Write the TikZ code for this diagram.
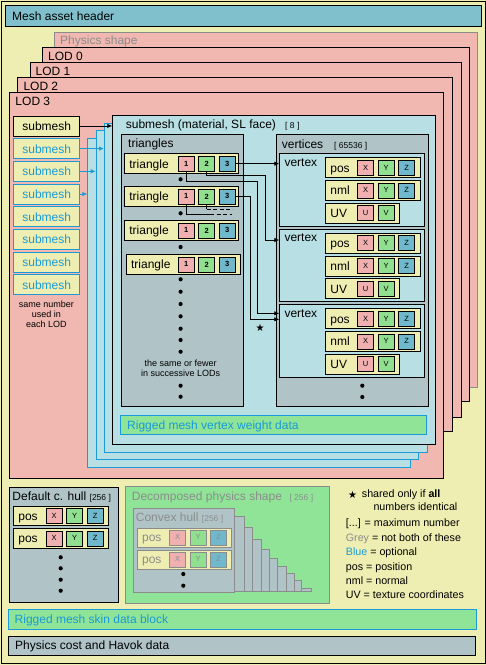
\documentclass[tikz,border=0pt]{standalone}
\usepackage{fontspec}
\setmainfont{Liberation Sans}
\newfontfamily\symbolfont{DejaVu Sans}
\usepackage{xcolor}
\usepackage{tikz}
\usetikzlibrary{arrows.meta}
\usetikzlibrary{calc}
\usetikzlibrary{positioning}
\tikzset{>=latex}

\definecolor{bgyellow}{HTML}{EEEEB2}
\definecolor{headteal}{HTML}{80C0CC}
\definecolor{lodpink}{HTML}{F0B8B0}
\definecolor{subblue}{HTML}{B8E0E4}
\definecolor{greyblue}{HTML}{B0C4C8}
\definecolor{datagreen}{HTML}{90E498}
\definecolor{cellpink}{HTML}{F0B0B0}
\definecolor{cellgreen}{HTML}{90E090}
\definecolor{cellblue}{HTML}{70B8CC}
\definecolor{optblue}{HTML}{1A9AD6}
\definecolor{greytext}{HTML}{8C8C8C}

\newcommand{\labelsize}{\fontsize{12}{14}\selectfont}
\newcommand{\smallsize}{\fontsize{8.5}{9}\selectfont}
\newcommand{\cellsize}{\fontsize{7.5}{8}\selectfont}
\newcommand{\notesize}{\fontsize{9}{10}\selectfont}
\newcommand{\legendsize}{\fontsize{10.7}{12}\selectfont}

\begin{document}
\begin{tikzpicture}[
        x=1pt, y=-1pt,
        blk/.style={draw, line width=0.8pt, anchor=north west, inner sep=0pt},
        sheet/.style={blk, fill=lodpink},
        boxtitle/.style={anchor=base west, inner sep=0pt, font=\labelsize},
        maxnum/.style={anchor=base west, inner sep=0pt, font=\smallsize},
        rowbox/.style={blk, fill=bgyellow, minimum height=20pt, inner xsep=5pt, align=left, text height=9pt, text depth=0pt, font=\labelsize},
        submeshbox/.style={blk, fill=bgyellow, minimum width=66pt, minimum height=20pt, text height=9pt, text depth=0pt, font=\labelsize},
        cell/.style={draw, line width=0.8pt, anchor=west, minimum width=16pt, minimum height=15pt, inner sep=0pt, font=\cellsize},
        wire/.style={line width=0.8pt, -{Latex[length=5pt,width=4.5pt]}},
        dashwire/.style={line width=0.8pt, dash pattern=on 4pt off 2.5pt},
        optional/.style={draw=optblue, text=optblue},
        faded/.style={draw=greytext, text=greytext},
        legendtext/.style={anchor=base west, inner sep=0pt, font=\legendsize},
        starmark/.style={inner sep=0pt, font=\symbolfont\fontsize{10}{10}\selectfont}
    ]

    \useasboundingbox (0,0) rectangle (486,665);
    \fill[bgyellow] (0,0) rectangle (486,665);
    \draw[line width=0.8pt] (1,1) rectangle (485,663.5);

    %=== Row Macros ===%
    \newcommand{\datarow}[5]{
        \pgfmathsetmacro{\rowwd}{#3-10}
        \node[rowbox, #5, minimum width=#3pt, text width=\rowwd pt] (#1) at (#2) {#4};
    }
    \newcommand{\datacells}[4]{
        \foreach \lbl/\clr [count=\i] in {#3} {
            \node[cell, fill=\clr, #4] (#1c\i) at ([xshift={#2+20.5*(\i-1)}]#1.west) {\lbl};
        }
    }
    \newcommand{\vertexbox}[2]{
        \node[blk, fill=subblue, minimum width=144.7pt, minimum height=72.4pt] (#1) at (279.3,#2) {};
        \node[boxtitle] (#1lbl) at ([xshift=5pt, yshift=-12.7pt]#1.north west) {vertex};
        \datarow{#1pos}{[xshift=45.7pt, yshift=-4pt]#1.north west}{94.7}{pos}{}
        \datacells{#1pos}{32.3}{X/cellpink, Y/cellgreen, Z/cellblue}{}
        \datarow{#1nml}{[xshift=45.7pt, yshift=-26.7pt]#1.north west}{94.7}{nml}{}
        \datacells{#1nml}{32.3}{X/cellpink, Y/cellgreen, Z/cellblue}{}
        \datarow{#1uv}{[xshift=45.7pt, yshift=-49.4pt]#1.north west}{73.7}{UV}{}
        \datacells{#1uv}{32.3}{U/cellpink, V/cellgreen}{}
    }

    % Header
    \node[blk, fill=headteal, minimum width=476pt, minimum height=20.5pt] (header) at (5,5) {};
    \node[boxtitle] (header label) at (12,20) {Mesh asset header};

    %=== LOD sheets ===%
    \node[sheet, draw=greytext, minimum width=422.7pt, minimum height=354.7pt] (physics) at (54,32) {};
    \node[boxtitle, text=greytext] (physics label) at (60,44.3) {Physics shape};
    \foreach \n/\lx/\ty/\w/\h in {0/42/47/426.7/354, 1/29.5/62/431.2/354.7, 2/17.3/77.3/434.7/354, 3/9.3/92.3/434/386} {
        \node[sheet, minimum width=\w pt, minimum height=\h pt] (lod\n) at (\lx,\ty) {};
        \node[boxtitle] (lod\n label) at ({\lx+6},{\ty+13.2}) {LOD \n};
    }

    % Submesh list
    \node[submeshbox] (sm1) at (13.3,115.5) {submesh};
    \foreach \i in {2,...,8} {
        \node[submeshbox, optional] (sm\i) at (13.3,{115.5+22.7*(\i-1)}) {submesh};
    }
    \node[align=center, inner sep=0pt, font=\notesize] (same note) at (46.5,314) {same number\\used in\\each LOD};

    %=== Submesh sheets ===%
    \foreach \k in {3,2,1} {
        \node[blk, optional, fill=subblue, minimum width=322.7pt, minimum height=329pt] (sub\k) at ({112.3-8.3*\k},{115+7.5*\k}) {};
    }
    \node[blk, fill=subblue, minimum width=322.7pt, minimum height=329pt] (sub0) at (112.3,115) {};
    \node[boxtitle] (sub0 label) at (125.7,128.3) {submesh (material, SL face)};
    \node[maxnum] (sub0 count) at (285,128.3) {[ 8 ]};

    \draw[wire] (sm1) -- (sm1 -| sub0.west);
    \foreach \i/\k in {2/1, 3/2, 4/3} {
        \draw[wire, optblue] (sm\i) -- (sm\i -| sub\k.west);
    }

    % Triangles
    \node[blk, fill=greyblue, minimum width=122.6pt, minimum height=271.7pt] (triangles) at (120.7,134.3) {};
    \node[boxtitle] (triangles label) at (128,147.3) {triangles};
    \foreach \r/\lx/\ty/\off in {1/124/153.3/53.7, 2/124/186/53.7, 3/124/220/53.7, 4/125.7/254/52} {
        \datarow{tri\r}{\lx,\ty}{114.3}{triangle}{}
        \datacells{tri\r}{\off}{1/cellpink, 2/cellgreen, 3/cellblue}{font=\cellsize\bfseries}
    }
    \foreach \y in {179.3, 213.3, 247, 279.3, 291.7, 304, 316.3, 328.7, 340, 351.7, 385.7, 396.7} {
        \fill (180.6,\y) circle (2.1pt);
    }
    \node[align=center, inner sep=0pt, font=\notesize] (fewer note) at (180.7,368.3) {the same or fewer\\in successive LODs};

    % Vertices
    \node[blk, fill=greyblue, minimum width=152pt, minimum height=272pt] (vertices) at (275.7,134.3) {};
    \node[boxtitle] (vertices label) at (281.7,148.7) {vertices};
    \node[maxnum] (vertices count) at (334,148.3) {[ 65536 ]};
    \vertexbox{v1}{153.3}
    \vertexbox{v2}{228.8}
    \vertexbox{v3}{304.3}
    \fill (362.3,385.7) circle (2.1pt);
    \fill (362.3,397) circle (2.1pt);

    %=== Triangle to vertex links ===%
    \coordinate (v2in) at ([yshift=-11.2pt]v2.north west);
    \coordinate (v3in) at ([yshift=-9pt]v3.north west);
    \coordinate (v3in2) at ([yshift=-15pt]v3.north west);
    \draw[wire] (tri1c3.east) -- (tri1c3.east -| v1.west);
    \draw[wire] (tri1c2.south) -- ++(0,3.5) -| ([xshift=-13.6pt]v2in) -- (v2in);
    \draw[wire] (tri1c1.south) -- ++(0,9.7) -| ([xshift=-21.6pt]v3in) -- (v3in);
    \draw[wire] (tri2c3.east) -| ([xshift=-29.3pt]v3in2) -- (v3in2);
    \draw[line width=0.8pt] (tri2c1.south) -- ++(0,9.6) -- ++(24,0) coordinate (dash1);
    \draw[dashwire] (dash1) -- ++(22,0);
    \draw[line width=0.8pt] (tri2c2.south) -- ++(0,5) coordinate (dash2);
    \draw[dashwire] (dash2) -- ++(26,0);
    \node[starmark] (shared star) at (260,327.5) {★};

    % Vertex weights
    \node[blk, optional, fill=datagreen, minimum width=306.3pt, minimum height=18.7pt] (weights) at (120,415.3) {};
    \node[boxtitle, text=optblue] (weights label) at (127,429) {Rigged mesh vertex weight data};

    %=== Physics hulls ===%
    \node[blk, fill=greyblue, minimum width=109pt, minimum height=115.3pt] (defhull) at (9.3,486.7) {};
    \node[boxtitle] (defhull label) at (12.3,500.7) {Default c. hull {\smallsize[256 ]}};
    \datarow{dh1}{13,505.7}{94.7}{pos}{minimum height=19.4pt}
    \datacells{dh1}{32.7}{X/cellpink, Y/cellgreen, Z/cellblue}{}
    \datarow{dh2}{13,528.3}{94.7}{pos}{minimum height=19.4pt}
    \datacells{dh2}{32.7}{X/cellpink, Y/cellgreen, Z/cellblue}{}
    \foreach \y in {557.3, 568.3, 579.7, 590.7} {
        \fill (60.7,\y) circle (2.1pt);
    }

    \node[blk, draw=greytext, fill=datagreen, minimum width=204pt, minimum height=116.7pt] (decomp) at (125,486) {};
    \node[boxtitle, text=greytext] (decomp label) at (131.7,500.7) {Decomposed physics shape};
    \node[maxnum, text=greytext] (decomp count) at (289.3,500.7) {[ 256 ]};
    \foreach \rx/\ty in {311/588.3, 301.7/580.7, 294/573.3, 286/566, 277.7/558.3, 269.3/549, 261/539.3, 252.7/527.7, 244.3/516.3} {
        \draw[line width=0.8pt, draw=greytext, fill=greyblue] ({\rx-101.6},\ty) rectangle (\rx,591.7);
    }
    \node[blk, draw=greytext, fill=greyblue, minimum width=101.6pt, minimum height=83.4pt] (hull) at (132.7,508.3) {};
    \node[boxtitle, text=greytext] (hull label) at (135.7,521) {Convex hull {\smallsize[256 ]}};
    \datarow{ch1}{136.7,527.5}{94}{pos}{faded, minimum height=19pt}
    \datacells{ch1}{32.6}{X/cellpink, Y/cellgreen, Z/cellblue}{faded}
    \datarow{ch2}{136.7,549.5}{94}{pos}{faded, minimum height=19pt}
    \datacells{ch2}{32.6}{X/cellpink, Y/cellgreen, Z/cellblue}{faded}
    \fill (183.3,574) circle (2.1pt);
    \fill (183.3,585.7) circle (2.1pt);

    % Legend
    \node[starmark] (legend star) at (352.7,494.5) {★};
    \node[legendtext] (leg1) at (361.7,497.7) {shared only if \textbf{all}};
    \node[legendtext] (leg2) at (373.3,510) {numbers identical};
    \node[legendtext] (leg3) at (345.7,526.7) {[...] = maximum number};
    \node[legendtext] (leg4) at (345.7,541.5) {\textcolor{greytext}{Grey} = not both of these};
    \node[legendtext] (leg5) at (345.7,555.7) {\textcolor{optblue}{Blue} = optional};
    \node[legendtext] (leg6) at (345.7,570) {pos = position};
    \node[legendtext] (leg7) at (345.7,584.3) {nml = normal};
    \node[legendtext] (leg8) at (345.7,598.7) {UV = texture coordinates};

    % Bottom blocks
    \node[blk, optional, fill=datagreen, minimum width=467.4pt, minimum height=20pt] (skin) at (8.3,609.3) {};
    \node[boxtitle, text=optblue] (skin label) at (14.5,623.3) {Rigged mesh skin data block};
    \node[blk, fill=greyblue, minimum width=466.7pt, minimum height=19.3pt] (havok) at (8.3,635.7) {};
    \node[boxtitle] (havok label) at (15,649.3) {Physics cost and Havok data};
\end{tikzpicture}
\end{document}
